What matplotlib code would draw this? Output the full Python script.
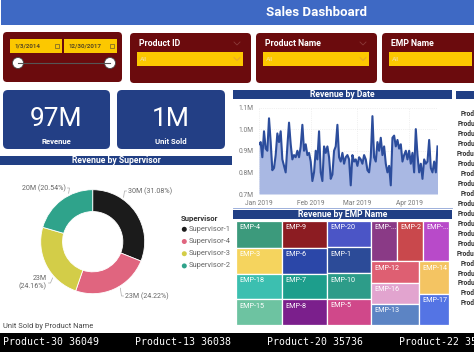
import matplotlib
matplotlib.use("Agg")
import math

import matplotlib.dates as mdates
import matplotlib.pyplot as plt
import pandas as pd
from matplotlib.patches import Circle, FancyBboxPatch, Rectangle
from matplotlib.ticker import FuncFormatter

W, H = 474, 355

# ---- data ----
date_slicer = ["1/3/2014", "12/30/2017"]
slicer_titles = ["Product ID", "Product Name", "EMP Name"]

kpi_values = [97, 1]  # millions
kpi_labels = ["Revenue", "Unit Sold"]

supervisors = ["Supervisor-1", "Supervisor-4", "Supervisor-3", "Supervisor-2"]
supervisor_revenue = [30.15, 23.49, 23.435, 19.92]  # millions
supervisor_colors = ["#1b1b1b", "#e0657f", "#d3cd48", "#2fa38b"]

rev_start = "2019-01-01"
daily_revenue = [
    0.93, 0.94, 0.87, 0.99, 0.91, 0.90, 1.05, 0.94, 0.81, 0.82,
    0.88, 0.98, 0.94, 0.99, 0.86, 0.83, 0.80, 0.92, 1.03, 0.93,
    0.86, 0.88, 0.87, 0.90, 0.87, 0.92, 1.02, 0.90, 0.93, 0.88,
    0.89, 0.85, 0.76, 0.80, 0.90, 0.86, 0.99, 0.80, 0.76, 0.92,
    0.89, 0.92, 0.87, 0.77, 0.79, 0.90, 0.92, 1.02, 0.87, 0.85,
    0.89, 0.84, 0.87, 0.88, 0.86, 0.74, 0.88, 0.85, 0.86, 0.83,
    0.87, 0.86, 0.84, 0.88, 0.86, 0.81, 0.80, 0.87, 1.06, 0.87,
    0.85, 0.94, 0.90, 0.96, 0.88, 0.92, 0.84, 0.80, 0.83, 0.74,
    0.96, 0.97, 0.92, 0.95, 0.91, 0.93, 0.85, 0.88, 0.90, 0.86,
    0.90, 0.84, 0.89, 0.80, 1.00, 0.88, 0.80, 0.84, 0.77, 0.86,
    0.84, 0.85, 0.95, 0.82, 0.80, 0.85, 0.80, 0.92,
]  # millions

emp_names = ["EMP-4", "EMP-3", "EMP-18", "EMP-15", "EMP-9", "EMP-6", "EMP-7", "EMP-8",
             "EMP-20", "EMP-1", "EMP-10", "EMP-5", "EMP-11", "EMP-2", "EMP-19",
             "EMP-12", "EMP-16", "EMP-13", "EMP-14", "EMP-17"]
emp_revenue = [5.47, 5.27, 5.20, 5.12, 5.28, 5.14, 5.06, 5.00,
               5.11, 5.00, 4.96, 4.92, 4.70, 4.55, 4.55,
               4.60, 4.38, 4.35, 4.30, 4.04]  # millions
emp_colors = ["#3c9a7c", "#f5d45e", "#3cbfb0", "#6dc3a1", "#8c1c22", "#2b47a8", "#1d9e8c", "#7b1f8c",
              "#4b55c6", "#2c4b98", "#2d9c89", "#d0488a", "#8a3a86", "#c9484c", "#b84ac9",
              "#de5f72", "#e2a4cf", "#5c84c4", "#f4c462", "#5474e4"]
# nesting of the treemap strips (alternating horizontal / vertical splits)
treemap_tree = [
    ["EMP-4", "EMP-3", "EMP-18", "EMP-15"],
    ["EMP-9", "EMP-6", "EMP-7", "EMP-8"],
    ["EMP-20", "EMP-1", "EMP-10", "EMP-5"],
    [["EMP-11", "EMP-2", "EMP-19"],
     [["EMP-12", "EMP-16", "EMP-13"], ["EMP-14", "EMP-17"]]],
]

table_products = ["Product-3", "Product-30", "Product-13", "Product-20", "Product-22",
                  "Product-27", "Product-8", "Product-11", "Product-5", "Product-16",
                  "Product-24", "Product-19", "Product-28", "Product-14", "Product-25",
                  "Product-1", "Product-17", "Product-21", "Product-9", "Product-6"]

ticker_products = ["Product-30", "Product-13", "Product-20", "Product-22"]
ticker_units = [36049, 36038, 35736, 35596]

# ---- styles ----
TITLE_BLUE = "#3e69c4"
NAVY = "#213f84"
MAROON = "#6b0b0d"
YELLOW = "#fcc800"
SANS = ["Roboto", "DejaVu Sans"]
NARROW = ["Liberation Sans Narrow", "Roboto", "DejaVu Sans"]

fig = plt.figure(figsize=(W / 100, H / 100), dpi=100)
fig.patch.set_facecolor("white")

bg = fig.add_axes([0, 0, 1, 1])
bg.set_xlim(0, W)
bg.set_ylim(H, 0)
bg.axis("off")


def px_axes(x0, y0, x1, y1):
    return fig.add_axes([x0 / W, 1 - y1 / H, (x1 - x0) / W, (y1 - y0) / H])


def rbox(x0, y0, x1, y1, color, r=4):
    bg.add_patch(FancyBboxPatch((x0, y0), x1 - x0, y1 - y0,
                                boxstyle=f"round,pad=0,rounding_size={r}",
                                facecolor=color, edgecolor="none"))


def header(x0, y0, x1, y1, text):
    bg.add_patch(Rectangle((x0, y0), x1 - x0, y1 - y0, facecolor=NAVY, edgecolor="none"))
    bg.text((x0 + x1) / 2, (y0 + y1) / 2 + 0.3, text, color="white", fontsize=6.2,
            fontweight="bold", ha="center", va="center", family=NARROW)


def chevron(x, y, color):
    bg.plot([x - 3, x, x + 3], [y - 1.5, y + 1.5, y - 1.5], color=color, lw=0.6)


# title bar
bg.add_patch(Rectangle((1, 0), W - 1, 25, facecolor=TITLE_BLUE, edgecolor="none"))
bg.text(317, 12.5, "Sales Dashboard", color="white", fontsize=9.5, fontweight="bold",
        ha="center", va="center", family=SANS)

# date slicer
rbox(3, 32, 122, 82, MAROON)
for (x0, x1), label in zip([(10, 62), (64, 117)], date_slicer):
    bg.add_patch(Rectangle((x0, 39), x1 - x0, 14, facecolor=YELLOW, edgecolor="none"))
    bg.text(x0 + 5, 46.3, label, fontsize=4.5, fontweight="bold", color="#5a4a20",
            ha="left", va="center", family=SANS)
    bg.add_patch(Rectangle((x1 - 7, 43.5), 4, 4, facecolor="none", edgecolor="#6a5a30", lw=0.5))
bg.plot([18, 110], [63, 63], color="#555555", lw=0.8)
for cx in (18, 110):
    bg.add_patch(Circle((cx, 63), 5.5, facecolor="white", edgecolor="#444444", lw=0.6))

# dropdown slicers
for (x0, x1), title in zip([(130, 251), (256, 377), (382, 480)], slicer_titles):
    rbox(x0, 33, x1, 83, MAROON)
    bg.text(x0 + 9, 43.5, title, color="white", fontsize=6.3, fontweight="bold",
            ha="left", va="center", family=SANS)
    bg.add_patch(Rectangle((x0 + 7, 52), min(x1 - 8, W) - (x0 + 7), 14,
                           facecolor=YELLOW, edgecolor="none"))
    bg.text(x0 + 10, 59.3, "All", color="#f2dc9a", fontsize=4.6, ha="left", va="center",
            family=SANS)
    if x1 < W:
        chevron(x1 - 14, 43.5, "#8c3a3a")
        chevron(x1 - 14, 59, "#e2a23c")

# KPI cards
for (x0, x1), val, lab in zip([(3, 110), (117, 225)], kpi_values, kpi_labels):
    rbox(x0, 90, x1, 149, "#233f85", r=5)
    xc = (x0 + x1) / 2
    bg.text(xc, 119, f"{val}M", color="white", fontsize=19, ha="center", va="center",
            family=SANS)
    bg.text(xc, 141.5, lab, color="white", fontsize=5.6, fontweight="bold", ha="center",
            va="center", family=SANS)

# ---- donut ----
header(0, 155.5, 232, 164.5, "Revenue by Supervisor")
cx, cy, R = 92.7, 241.7, 52
ax_d = px_axes(cx - 80, cy - 80, cx + 80, cy + 80)
ax_d.pie(supervisor_revenue, colors=supervisor_colors, startangle=90, counterclock=False,
         radius=1, wedgeprops=dict(width=0.42, edgecolor="white", linewidth=0.6))
ax_d.set_xlim(-80 / R, 80 / R)
ax_d.set_ylim(-80 / R, 80 / R)
ax_d.set_aspect("auto")
ax_d.axis("off")

total = sum(supervisor_revenue)
label_pos = [(128, 191, "left"), (125, 296, "left"), (47, 283, "right"), (66, 188, "right")]
label_wrap = [False, False, True, False]
start = 90.0
for v, (tx, ty, ha), wrap in zip(supervisor_revenue, label_pos, label_wrap):
    span = v / total * 360
    a0, a1 = start - span, start
    ang = math.degrees(math.atan2(-(ty - cy), tx - cx))
    if ang > a1:
        ang -= 360
    if ang < a0:
        ang += 360
    ang = min(max(ang, a0), a1)
    ex = cx + 1.04 * R * math.cos(math.radians(ang))
    ey = cy - 1.04 * R * math.sin(math.radians(ang))
    end_x = tx - 1.5 if ha == "left" else tx + 1.5
    bg.plot([ex, end_x - (2 if ha == "left" else -2), end_x], [ey, ty, ty],
            color="#aaaaaa", lw=0.5)
    sep = "\n" if wrap else " "
    bg.text(tx, ty, f"{v:.0f}M{sep}({v / total * 100:.2f}%)", fontsize=5.1, color="#666666",
            ha=ha, va="center", family=SANS, linespacing=1.1)
    start -= span

# legend
bg.text(181, 218.5, "Supervisor", fontsize=5.6, fontweight="bold", color="#333333",
        ha="left", va="center", family=SANS)
for i, (name, col) in enumerate(zip(supervisors, supervisor_colors)):
    yy = 229.3 + i * 12.2
    bg.scatter([184.3], [yy], s=13, color=col, edgecolors="none")
    bg.text(188.5, yy, name, fontsize=5.4, color="#666666", ha="left", va="center",
            family=SANS)

bg.text(3.5, 326, "Unit Sold by Product Name", fontsize=5.4, color="#444444",
        ha="left", va="center", family=SANS)

# ---- line chart ----
header(233, 90, 452, 99, "Revenue by Date")
dates = pd.date_range(rev_start, periods=len(daily_revenue), freq="D")
ax_l = px_axes(259, 107.5, 437.5, 194)
ax_l.fill_between(dates, daily_revenue, 0.7, color="#a9b8e3", linewidth=0)
ax_l.plot(dates, daily_revenue, color="#2c4d9c", lw=1.5)
ax_l.set_xlim(dates[0], dates[-1])
ax_l.set_ylim(0.7, 1.1)
ax_l.set_yticks([0.7, 0.8, 0.9, 1.0, 1.1])
ax_l.yaxis.set_major_formatter(FuncFormatter(lambda v, _: f"{v:.1f}M"))
ax_l.xaxis.set_major_locator(mdates.MonthLocator())
ax_l.xaxis.set_major_formatter(mdates.DateFormatter("%b %Y"))
ax_l.tick_params(length=0, labelsize=4.8, labelcolor="#777777", pad=4)
for lab in ax_l.get_xticklabels() + ax_l.get_yticklabels():
    lab.set_family(SANS)
ax_l.grid(True, color="#e4e4e4", lw=0.5, ls=":")
ax_l.set_axisbelow(True)
for s in ax_l.spines.values():
    s.set_visible(False)
ax_l.patch.set_alpha(0)
bg.plot([233, 452], [207.5, 207.5], color="#8ea3d6", lw=0.6)

# ---- treemap ----
header(233, 210, 452, 219, "Revenue by EMP Name")
emp_rev = dict(zip(emp_names, emp_revenue))
emp_col = dict(zip(emp_names, emp_colors))


def node_value(node):
    return emp_rev[node] if isinstance(node, str) else sum(node_value(c) for c in node)


def layout(node, x, y, w, h, horizontal, out):
    if isinstance(node, str):
        out.append((node, x, y, w, h))
        return
    tot = node_value(node)
    pos = 0.0
    for c in node:
        frac = node_value(c) / tot
        if horizontal:
            layout(c, x + pos * w, y, w * frac, h, False, out)
        else:
            layout(c, x, y + pos * h, w, h * frac, True, out)
        pos += frac


tiles = []
layout(treemap_tree, 0, 0, 1, 1, True, tiles)
tx0, ty0, tx1, ty1 = 236, 221, 448.5, 324.5
ax_t = px_axes(tx0, ty0, tx1, ty1)
ax_t.set_xlim(0, 1)
ax_t.set_ylim(1, 0)
ax_t.axis("off")
for name, x, y, w, h in tiles:
    ax_t.add_patch(Rectangle((x, y), w, h, facecolor=emp_col[name], edgecolor="white", lw=0.9))
    label = name
    if w * (tx1 - tx0) < 27 and len(name) > 5:
        label = "EMP-..."
    ax_t.annotate(label, (x, y), xytext=(2.6, -2.4), textcoords="offset points",
                  fontsize=5.2, color="white", ha="left", va="top", family=SANS)

# ---- right table (cut off by the page edge, as in the report) ----
bg.add_patch(Rectangle((456.5, 91), 20, 7.5, facecolor=NAVY, edgecolor="none"))
for i, p in enumerate(table_products):
    bg.text(491, 114.3 + i * 9.95, p, fontsize=4.8, fontweight="bold", color="#333333",
            ha="right", va="center", family=SANS)

# ---- ticker ----
bg.add_patch(Rectangle((0, 332.5), W, 19.5, facecolor="black", edgecolor="none"))
ticker = (" " * 6).join(f"{p} {u}" for p, u in zip(ticker_products, ticker_units))
bg.text(3.3, 342.3, ticker, fontsize=7.1, color="white", ha="left", va="center",
        family="DejaVu Sans Mono")

fig.savefig("out.png", dpi=100)
